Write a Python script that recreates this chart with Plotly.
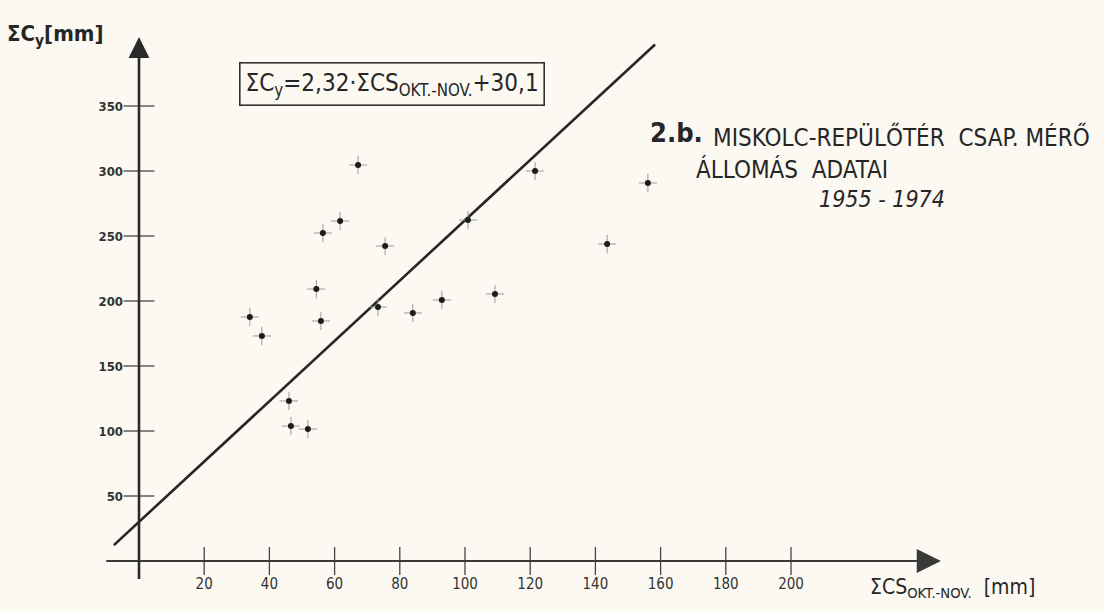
import plotly.graph_objects as go
import numpy as np

# --- data ---
x_vals = [34.0, 37.7, 46.0, 46.6, 51.8, 54.4, 56.4, 55.8, 61.7, 67.2,
          75.5, 73.3, 84.0, 92.9, 100.9, 109.2, 121.5, 143.6, 156.1]
y_vals = [187.7, 173.1, 123.1, 103.8, 101.5, 209.2, 252.3, 184.6, 261.5, 304.6,
          242.3, 195.4, 190.8, 200.8, 262.3, 205.4, 300.0, 243.8, 290.8]
x_ticks = [20, 40, 60, 80, 100, 120, 140, 160, 180, 200]
y_ticks = [50, 100, 150, 200, 250, 300, 350]
slope = 2.32
intercept = 30.1
line_x = [-7.7, 158.3]
x_axis_span = [-10.5, 246]
y_axis_span = [-15, 403]

INK = "#262626"
PAPER = "#fbf9f1"
FONT = "DejaVu Sans Condensed, DejaVu Sans, sans-serif"

fig = go.Figure()

# regression line
lx = np.array(line_x)
fig.add_trace(go.Scatter(x=lx, y=slope * lx + intercept, mode="lines",
                         line=dict(color=INK, width=2.6), hoverinfo="skip"))

# tick marks crossing the axes
fig.add_trace(go.Scatter(x=x_ticks, y=[0] * len(x_ticks), mode="markers",
                         marker=dict(symbol="line-ns", size=20,
                                     line=dict(color="#444", width=1.3)),
                         hoverinfo="skip"))
fig.add_trace(go.Scatter(x=[0] * len(y_ticks), y=y_ticks, mode="markers",
                         marker=dict(symbol="line-ew", size=22,
                                     line=dict(color="#444", width=1.3)),
                         hoverinfo="skip"))

# data points: thin cross + dark dot
fig.add_trace(go.Scatter(x=x_vals, y=y_vals, mode="markers",
                         marker=dict(symbol="cross-thin", size=13,
                                     line=dict(color="#9a9a9a", width=1)),
                         hoverinfo="skip"))
fig.add_trace(go.Scatter(x=x_vals, y=y_vals, mode="markers",
                         marker=dict(symbol="circle", size=6, color="#1c1c1c"),
                         hoverinfo="skip"))

# axes with arrows
fig.add_annotation(x=x_axis_span[1], y=0, ax=x_axis_span[0], ay=0,
                   xref="x", yref="y", axref="x", ayref="y", text="",
                   showarrow=True, arrowhead=2, arrowsize=2.2, arrowwidth=2.2,
                   arrowcolor="#3a3a3a")
fig.add_annotation(x=0, y=y_axis_span[1], ax=0, ay=y_axis_span[0],
                   xref="x", yref="y", axref="x", ayref="y", text="",
                   showarrow=True, arrowhead=2, arrowsize=1.6, arrowwidth=2.6,
                   arrowcolor="#2a2a2a")

W, H = 1104, 612

def px(xp):
    return xp / W

def py(yp):
    return 1 - yp / H

def label(xp, yp, text, size, xanchor="left", **kw):
    fig.add_annotation(x=px(xp), y=py(yp), xref="paper", yref="paper",
                       xanchor=xanchor, yanchor="middle", showarrow=False,
                       text=text, font=dict(family=FONT, size=size, color=INK),
                       **kw)

label(5, 35, "<b>ΣC<sub>y</sub>[mm]</b>", 22)
label(392, 84, "ΣC<sub>y</sub>=2,32·ΣCS<sub>OKT.-NOV.</sub>+30,1", 24,
      xanchor="center", bordercolor="#333", borderwidth=1.6, borderpad=5,
      bgcolor=PAPER)
label(648, 132, "<b>2.b.</b>", 27)
label(711, 137, "MISKOLC-REPÜLŐTÉR  CSAP. MÉRŐ", 24)
label(694, 169, "ÁLLOMÁS  ADATAI", 24)
label(817, 199, "<i>1955 - 1974</i>", 23)
label(868, 588, "ΣCS<sub>OKT.-NOV.</sub>  [mm]", 21)

x0p, y0p = 139, 561
xs, ys = 3.26, 1.3
fig.update_layout(
    width=W, height=H, margin=dict(l=0, r=0, t=0, b=0),
    paper_bgcolor=PAPER, plot_bgcolor=PAPER, showlegend=False,
    xaxis=dict(range=[-x0p / xs, (W - x0p) / xs], tickvals=x_ticks,
               ticktext=[str(v) for v in x_ticks],
               showgrid=False, zeroline=False, showline=False, ticks="",
               anchor="free", position=1 - y0p / H, automargin=False,
               ticklabelstandoff=12,
               tickfont=dict(family=FONT, size=15, color="#333")),
    yaxis=dict(range=[-(H - y0p) / ys, y0p / ys], tickvals=y_ticks,
               ticktext=["<b>%d</b>" % v for v in y_ticks],
               showgrid=False, zeroline=False, showline=False, ticks="",
               anchor="free", position=x0p / W, automargin=False,
               ticklabelstandoff=16,
               tickfont=dict(family=FONT, size=13, color="#333")),
)

fig.write_html("out.html", config={"displayModeBar": False},
               post_script="document.body.style.margin='0';"
                           "document.body.style.background='" + PAPER + "';")
